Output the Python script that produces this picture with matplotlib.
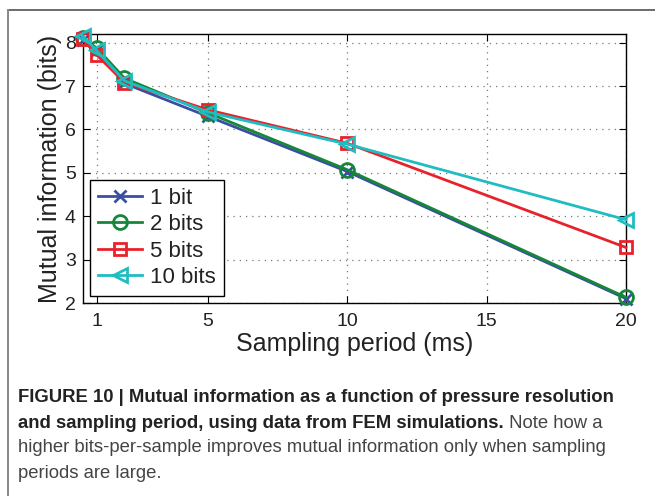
import matplotlib
matplotlib.use("Agg")
import matplotlib.pyplot as plt
from matplotlib.lines import Line2D

plt.rcParams['font.family'] = ['Liberation Sans', 'DejaVu Sans']

# ---- data ----
period_ms = [0.5, 1, 2, 5, 10, 20]
mi_1bit = [8.06, 7.82, 7.06, 6.30, 5.03, 2.10]
mi_2bits = [8.10, 7.88, 7.18, 6.38, 5.07, 2.13]
mi_5bits = [8.08, 7.72, 7.08, 6.45, 5.68, 3.28]
mi_10bits = [8.15, 7.82, 7.12, 6.40, 5.66, 3.92]
series_labels = ['1 bit', '2 bits', '5 bits', '10 bits']
x_ticks = [1, 5, 10, 15, 20]
y_ticks = [2, 3, 4, 5, 6, 7, 8]
x_label = 'Sampling period (ms)'
y_label = 'Mutual information (bits)'
caption_bold_1 = 'FIGURE 10 | Mutual information as a function of pressure resolution'
caption_bold_2 = 'and sampling period, using data from FEM simulations.'
caption_reg_2 = ' Note how a'
caption_reg_3 = 'higher bits-per-sample improves mutual information only when sampling'
caption_reg_4 = 'periods are large.'

W, H = 655, 496
fig = plt.figure(figsize=(W / 100, H / 100), dpi=100)
ax = fig.add_axes([82.7 / W, 1 - 303 / H, (626 - 82.7) / W, (303 - 34) / H])

colors = ['#3a4fa3', '#16873a', '#e8222b', '#1fbdc1']
markers = ['x', 'o', 's', '<']
msizes = [8, 10, 8, 10]
series = [mi_1bit, mi_2bits, mi_5bits, mi_10bits]
for ys, lab, c, m, ms in zip(series, series_labels, colors, markers, msizes):
    ax.plot(period_ms, ys, color=c, lw=2.0, marker=m, ms=ms,
            mfc='none', mec=c, mew=2.0, label=lab, clip_on=False, zorder=3)

ax.set_xlim(0.5, 20)
ax.set_ylim(2, 8.2)
ax.set_xticks(x_ticks)
ax.set_yticks(y_ticks)
ax.tick_params(direction='in', length=5, width=0.8, labelsize=14,
               top=True, right=True, colors='black', pad=7)
ax.tick_params(axis='y', pad=5)
for lab in ax.get_xticklabels() + ax.get_yticklabels():
    lab.set_color('#222222')
ax.grid(True, linestyle=(0, (1, 4)), color='#777777', lw=0.9)
for s in ax.spines.values():
    s.set_linewidth(1.0)
    s.set_color('black')

ax.set_xlabel(x_label, fontsize=18, color='#222222', labelpad=2)
ax.set_ylabel(y_label, fontsize=18, color='#222222', labelpad=2)

leg = ax.legend(loc='lower left', bbox_to_anchor=(90 / W, 1 - 296 / H),
                bbox_transform=fig.transFigure, borderaxespad=0,
                fontsize=16, frameon=True, fancybox=False, framealpha=1,
                edgecolor='black', handlelength=2.0, handletextpad=0.35,
                labelspacing=0.25, borderpad=0.35)
leg.get_frame().set_linewidth(1.0)
for t in leg.get_texts():
    t.set_color('#222222')

# outer frame
fig.add_artist(Line2D([7.5 / W, 1.0], [1 - 10 / H, 1 - 10 / H],
                      transform=fig.transFigure, color='#444444', lw=1.1))
fig.add_artist(Line2D([7.5 / W, 7.5 / W], [1 - 10 / H, 0],
                      transform=fig.transFigure, color='#888888', lw=1.4))

# caption
cx = 18 / W
cfs = 13.3
t1 = fig.text(cx, 1 - 397 / H, caption_bold_1, fontsize=cfs, fontweight='bold',
              color='#222222', va='center', ha='left')
t2 = fig.text(cx, 1 - 423 / H, caption_bold_2, fontsize=cfs, fontweight='bold',
              color='#222222', va='center', ha='left')
ax.annotate(caption_reg_2, xy=(1, 0), xycoords=t2, va='bottom', ha='left',
            fontsize=cfs, color='#444444', annotation_clip=False)
fig.text(cx, 1 - 448 / H, caption_reg_3, fontsize=cfs, color='#444444',
         va='center', ha='left')
fig.text(cx, 1 - 474 / H, caption_reg_4, fontsize=cfs, color='#444444',
         va='center', ha='left')

fig.savefig('out.png', dpi=100)
